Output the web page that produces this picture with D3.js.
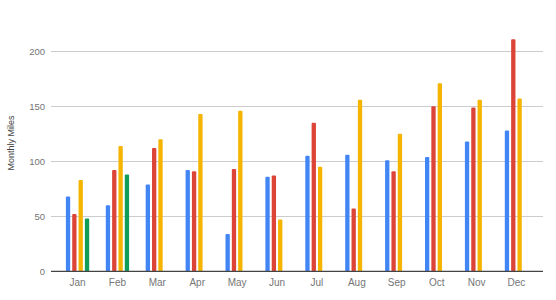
<!DOCTYPE html>
<html>
<head>
<meta charset="utf-8">
<script src="https://cdnjs.cloudflare.com/ajax/libs/d3/7.8.5/d3.min.js"></script>
<style>
  body { margin: 0; background: #fff; }
  text { font-family: Arial, "Liberation Sans", sans-serif; }
</style>
</head>
<body>
<script>
// chart data
var months = ["Jan", "Feb", "Mar", "Apr", "May", "Jun", "Jul", "Aug", "Sep", "Oct", "Nov", "Dec"];
var series = ["s1", "s2", "s3", "s4"];
var blue   = [68, 60, 79, 92, 34, 86, 105, 106, 101, 104, 118, 128];
var red    = [52, 92, 112, 91, 93, 87, 135, 57, 91, 150, 149, 211];
var yellow = [83, 114, 120, 143, 146, 47, 95, 156, 125, 171, 156, 157];
var green  = [48, 88, null, null, null, null, null, null, null, null, null, null];
var yTicks = [0, 50, 100, 150, 200];
var colors = ["#4285f4", "#db4437", "#f4b400", "#0f9d58"];

var w = 556;
var h = 300;
// plot area (named so they don't clash with window.top)
var plotLeft = 51, plotRight = 543, plotTop = 51.3, plotBottom = 271.3;

var svg = d3.select("body")
  .append("svg")
  .attr("width", w)
  .attr("height", h);

var x0 = d3.scaleBand()
  .domain(months)
  .range([plotLeft, plotRight])
  .paddingInner(0.416)
  .paddingOuter(0.373);

var x1 = d3.scaleBand()
  .domain(series)
  .range([0, x0.bandwidth()])
  .paddingInner(0.32);

var y = d3.scaleLinear()
  .domain([0, 200])
  .range([plotBottom, plotTop]);

// gridlines
svg.selectAll("line.grid")
  .data(yTicks.slice(1))
  .enter()
  .append("line")
  .attr("x1", plotLeft)
  .attr("x2", plotRight)
  .attr("y1", function(d) { return Math.round(y(d)) + 0.5; })
  .attr("y2", function(d) { return Math.round(y(d)) + 0.5; })
  .attr("stroke", "#cccccc")
  .attr("stroke-width", 1);

// y tick labels
svg.selectAll("text.ytick")
  .data(yTicks)
  .enter()
  .append("text")
  .attr("x", 45)
  .attr("y", function(d) { return y(d); })
  .attr("dy", "0.35em")
  .attr("text-anchor", "end")
  .attr("font-size", 9.5)
  .attr("fill", "#757575")
  .text(function(d) { return d; });

// bars
var table = months.map(function(m, i) {
  return { month: m, values: [blue[i], red[i], yellow[i], green[i]] };
});

var groups = svg.selectAll("g.month")
  .data(table)
  .enter()
  .append("g")
  .attr("transform", function(d) { return "translate(" + x0(d.month) + ",0)"; });

groups.selectAll("rect")
  .data(function(d) {
    return d.values.map(function(v, j) { return { key: series[j], value: v, color: colors[j] }; })
      .filter(function(e) { return e.value != null; });
  })
  .enter()
  .append("rect")
  .attr("x", function(d) { return x1(d.key); })
  .attr("y", function(d) { return y(d.value); })
  .attr("width", x1.bandwidth())
  .attr("height", function(d) { return plotBottom - y(d.value); })
  .attr("rx", 1)
  .attr("fill", function(d) { return d.color; });

// baseline
svg.append("line")
  .attr("x1", plotLeft)
  .attr("x2", plotRight)
  .attr("y1", plotBottom)
  .attr("y2", plotBottom)
  .attr("stroke", "#444")
  .attr("stroke-width", 1.3);

// x labels
svg.selectAll("text.xtick")
  .data(months)
  .enter()
  .append("text")
  .attr("x", function(d) { return x0(d) + x0.bandwidth() / 2; })
  .attr("y", 282.5)
  .attr("dy", "0.35em")
  .attr("text-anchor", "middle")
  .attr("font-size", 10)
  .attr("fill", "#757575")
  .text(function(d) { return d; });

// axis title
svg.append("text")
  .attr("transform", "translate(11,143) rotate(-90)")
  .attr("dy", "0.35em")
  .attr("text-anchor", "middle")
  .attr("font-size", 9)
  .attr("fill", "#444")
  .text("Monthly Miles");
</script>
</body>
</html>
